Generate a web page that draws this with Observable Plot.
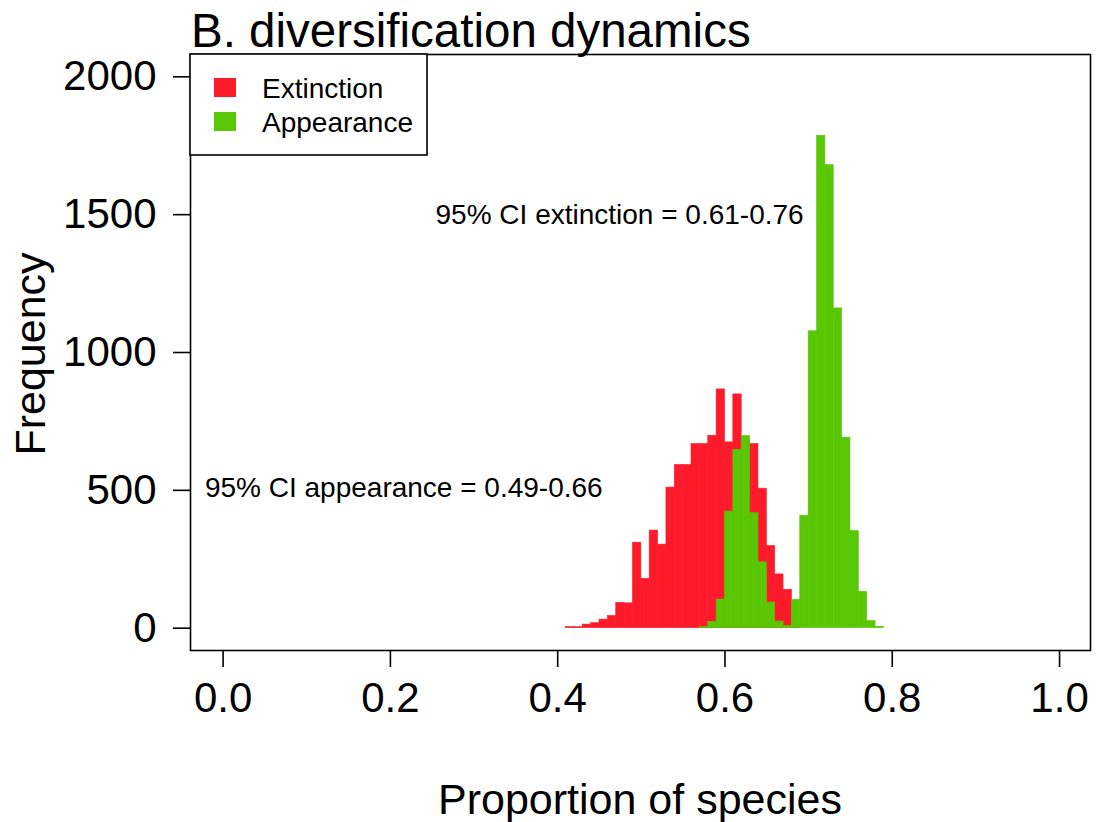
<!DOCTYPE html>
<html>
<head>
<meta charset="utf-8">
<script src="https://cdn.jsdelivr.net/npm/d3@7"></script>
<script src="https://cdn.jsdelivr.net/npm/@observablehq/plot@0.6"></script>
<style>
  html, body { margin: 0; padding: 0; background: #fff; }
  #chart svg { display: block; }
</style>
</head>
<body>
<div id="chart"></div>
<script>
// ---- data ----
const binStart = [0.41,0.42,0.43,0.44,0.45,0.46,0.47,0.48,0.49,0.50,
                  0.51,0.52,0.53,0.54,0.55,0.56,0.57,0.58,0.59,0.60,
                  0.61,0.62,0.63,0.64,0.65,0.66,0.67,0.68,0.69,0.70,
                  0.71,0.72,0.73,0.74,0.75,0.76,0.77,0.78];
const binWidth = 0.01;
const extinction = [4,4,13,18,31,44,92,90,310,179,
                    354,303,510,592,592,668,668,698,866,674,
                    848,680,668,506,298,195,139,15,0,0,
                    0,0,0,0,0,0,0,0];
const appearance = [0,0,0,0,0,0,0,0,0,0,
                    0,0,0,0,0,0,4,23,104,423,
                    647,697,417,239,93,24,8,103,408,1077,
                    1786,1680,1160,691,352,132,26,5];
const xTicks = [0.0, 0.2, 0.4, 0.6, 0.8, 1.0];
const yTicks = [0, 500, 1000, 1500, 2000];
const seriesNames = ["Extinction", "Appearance"];
const seriesColors = ["#fc1a2b", "#59c606"];
const noteText = ["95% CI extinction = 0.61-0.76", "95% CI appearance = 0.49-0.66"];
const noteX = [0.474, 0.216];
const noteY = [1500, 508];
const titleText = "B. diversification dynamics";
const xLabel = "Proportion of species";
const yLabel = "Frequency";

// ---- tables built from the arrays ----
const extRows = binStart.map((b, i) => ({x1: b, x2: b + binWidth, v: extinction[i]})).filter(d => d.v > 0);
const appRows = binStart.map((b, i) => ({x1: b, x2: b + binWidth, v: appearance[i]})).filter(d => d.v > 0);
const notes = noteText.map((t, i) => ({t, x: noteX[i], y: noteY[i]}));

const FONT = "'Liberation Sans', Arial, Helvetica, sans-serif";
const W = 1113, H = 822;
const mL = 190, mR = 23, mT = 54, mB = 172;

const chart = Plot.plot({
  width: W, height: H,
  marginLeft: mL, marginRight: mR, marginTop: mT, marginBottom: mB,
  style: {fontFamily: FONT, background: "#fff", color: "#000", overflow: "visible"},
  x: {domain: [-0.039, 1.037]},
  y: {domain: [-81, 2081]},
  marks: [
    Plot.rectY(extRows, {x1: "x1", x2: "x2", y1: 0, y2: "v", fill: seriesColors[0], stroke: seriesColors[0], strokeWidth: 0.6}),
    Plot.rectY(appRows, {x1: "x1", x2: "x2", y1: 0, y2: "v", fill: seriesColors[1], stroke: seriesColors[1], strokeWidth: 0.6}),
    Plot.frame({stroke: "#000", strokeWidth: 1.6}),
    Plot.axisX({ticks: xTicks, tickFormat: d3.format(".1f"), tickSize: 17, tickPadding: 15, fontSize: 42, strokeWidth: 1.6, label: null}),
    Plot.axisY({ticks: yTicks, tickFormat: d => String(d), tickSize: 17, tickPadding: 17, fontSize: 42, strokeWidth: 1.6, label: null}),
    Plot.text(notes, {x: "x", y: "y", text: "t", fontSize: 28, textAnchor: "middle", fill: "#000"})
  ]
});

document.getElementById("chart").appendChild(chart);

// ---- title, axis titles and legend drawn into the same SVG ----
const svg = d3.select(chart);
const g = svg.append("g").attr("font-family", FONT).attr("fill", "#000").attr("text-anchor", "start");

g.append("text").attr("x", 191).attr("y", 47).attr("font-size", 47.5)
  .attr("text-anchor", "start").text(titleText);
g.append("text").attr("x", (mL + W - mR) / 2).attr("y", 814).attr("font-size", 43)
  .attr("text-anchor", "middle").text(xLabel);
g.append("text").attr("transform", `translate(45,${(mT + H - mB) / 2 + 2}) rotate(-90)`)
  .attr("font-size", 43).attr("text-anchor", "middle").text(yLabel);

const lg = g.append("g");
lg.append("rect").attr("x", mL).attr("y", mT).attr("width", 237).attr("height", 101)
  .attr("fill", "#fff").attr("stroke", "#000").attr("stroke-width", 1.6);
seriesNames.forEach((name, i) => {
  const yb = 98 + i * 34;
  lg.append("rect").attr("x", 214).attr("y", yb - 20).attr("width", 22).attr("height", 19)
    .attr("fill", seriesColors[i]);
  lg.append("text").attr("x", 262).attr("y", yb).attr("font-size", 28)
    .attr("text-anchor", "start").text(name);
});
</script>
</body>
</html>
